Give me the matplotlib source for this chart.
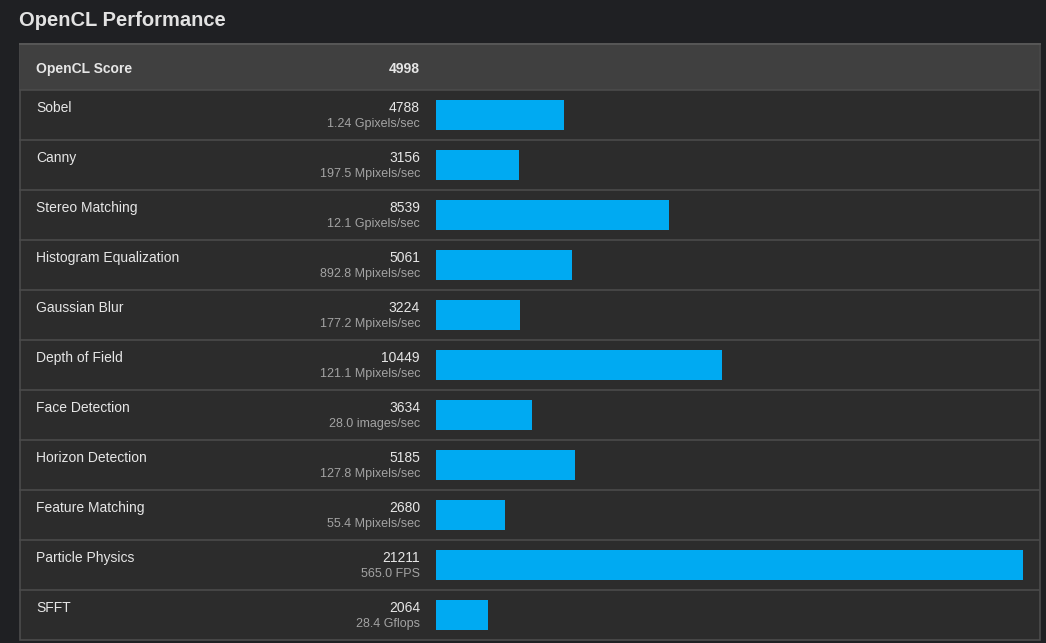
import matplotlib.pyplot as plt
from matplotlib.patches import Rectangle

plt.rcParams['font.family'] = ['Liberation Sans', 'DejaVu Sans']

title = 'OpenCL Performance'
total_label = 'OpenCL Score'
total_score = 4998

tests = ['Sobel', 'Canny', 'Stereo Matching', 'Histogram Equalization',
         'Gaussian Blur', 'Depth of Field', 'Face Detection',
         'Horizon Detection', 'Feature Matching', 'Particle Physics', 'SFFT']
scores = [4788, 3156, 8539, 5061, 3224, 10449, 3634, 5185, 2680, 21211, 2064]
rates = ['1.24 Gpixels/sec', '197.5 Mpixels/sec', '12.1 Gpixels/sec',
         '892.8 Mpixels/sec', '177.2 Mpixels/sec', '121.1 Mpixels/sec',
         '28.0 images/sec', '127.8 Mpixels/sec', '55.4 Mpixels/sec',
         '565.0 FPS', '28.4 Gflops']

W, H = 1046, 643
page = '#1f2023'
row_bg = '#2c2c2c'
head_bg = '#404040'
line_c = '#4b4b4b'
text_c = '#e6e6e6'
sub_c = '#a3a3a3'
bar_c = '#00aaf2'

fig = plt.figure(figsize=(W / 100, H / 100), dpi=100, facecolor=page)

# pixel-space layer for the panel, separators and text
bg = fig.add_axes([0, 0, 1, 1])
bg.set_xlim(0, W)
bg.set_ylim(H, 0)
bg.axis('off')

left, right, top, bottom = 19.5, 1039.5, 44, 640
head_h, row_h = 46, 50
bg.add_patch(Rectangle((left, top), right - left, bottom - top,
                       facecolor=row_bg, edgecolor='#4c4c4c', lw=1.2))
bg.plot([left, right], [top, top], color='#575757', lw=1.4)
bg.add_patch(Rectangle((left + 0.6, top + 0.7), right - left - 1.2, head_h - 0.7,
                       facecolor=head_bg, edgecolor='none'))

bg.text(19, 26, title, color='#e2e2e2', fontsize=14.5, fontweight='bold',
        va='baseline')
bg.text(36, 73, total_label, color=text_c, fontsize=10, fontweight='bold',
        va='baseline')
bg.text(420, 73, str(total_score), color=text_c, fontsize=10,
        fontweight='bold', ha='right', va='baseline')

for i, (name, s, r) in enumerate(zip(tests, scores, rates)):
    y0 = top + head_h + i * row_h
    bg.plot([left + 0.6, right - 0.6], [y0, y0], color=line_c, lw=1.2)
    bg.text(36, y0 + 22, name, color=text_c, fontsize=10, va='baseline')
    bg.text(420, y0 + 22, str(s), color=text_c, fontsize=10, ha='right',
            va='baseline')
    bg.text(420, y0 + 37, r, color=sub_c, fontsize=9, ha='right',
            va='baseline')

# bar layer, one unit per row
bx0, bx1 = 436, 1039
by0 = top + head_h
ax = fig.add_axes([bx0 / W, (H - bottom) / H, (bx1 - bx0) / W,
                   (bottom - by0) / H])
ax.patch.set_alpha(0)
ax.axis('off')
ax.barh(range(len(tests)), scores, height=0.6, color=bar_c)
ax.set_ylim(len(tests) - 0.5, -0.5)
ax.set_xlim(203, 21785)

fig.savefig('out.png', dpi=100, facecolor=page)
